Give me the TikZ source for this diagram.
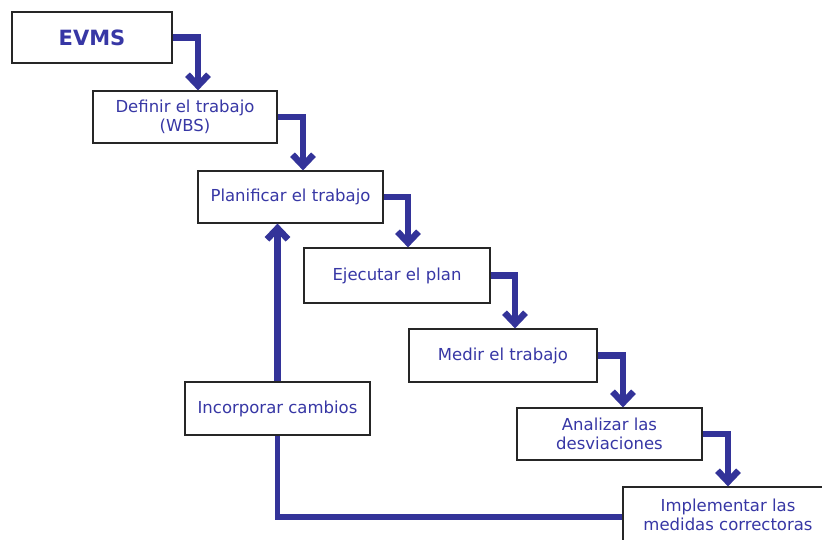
\documentclass[tikz,border=0pt]{standalone}
\usepackage{fontspec}
\setmainfont{DejaVu Sans}
\usetikzlibrary{arrows.meta}
\definecolor{lineblue}{RGB}{51,51,153}
\definecolor{textblue}{RGB}{55,55,165}
\begin{document}
\begin{tikzpicture}[x=1pt,y=-1pt,
  box/.style={draw=black!85,line width=1.2pt,fill=white,text=textblue,align=center,
    font=\fontsize{16.5}{19}\selectfont,inner sep=0pt},
  arr/.style={draw=lineblue,line width=6.5pt,line join=miter,
    -{Straight Barb[length=11pt,width=21pt]}},
  lin/.style={draw=lineblue,line width=5.5pt,line join=miter}]
\useasboundingbox (0,0) rectangle (822,539);
\clip (0,0) rectangle (822,539);
\fill[white] (0,0) rectangle (822,539);
\node[box,minimum width=160pt,minimum height=51pt,font=\fontsize{21}{24}\bfseries\selectfont] (evms) at (92,37.5) {EVMS};
\node[box,minimum width=184pt,minimum height=52pt] (def) at (185,117) {Definir el trabajo\\(WBS)};
\node[box,minimum width=185pt,minimum height=52pt] (plan) at (290.5,197) {Planificar el trabajo};
\node[box,minimum width=186pt,minimum height=55pt] (eje) at (397,275.5) {Ejecutar el plan};
\node[box,minimum width=188pt,minimum height=53pt] (med) at (503,355.5) {Medir el trabajo};
\node[box,minimum width=185pt,minimum height=52pt] (ana) at (609.5,434) {Analizar las\\desviaciones};
\node[box,minimum width=210pt,minimum height=56pt] (imp) at (728,515) {Implementar las\\medidas correctoras};
\node[box,minimum width=185pt,minimum height=53pt] (inc) at (277.5,408.5) {Incorporar cambios};
\draw[arr] (evms.east) -| ([xshift=13pt]def.north);
\draw[arr] (def.east) -| ([xshift=12.5pt]plan.north);
\draw[arr] (plan.east) -| ([xshift=11pt]eje.north);
\draw[arr] (eje.east) -| ([xshift=12pt]med.north);
\draw[arr] (med.east) -| ([xshift=13.5pt]ana.north);
\draw[arr] (ana.east) -| (imp.north);
\draw[lin] ([yshift=-2pt]imp.west) -| (inc.south);
\draw[arr] (inc.north) -- (inc.north |- plan.south);
\end{tikzpicture}
\end{document}
